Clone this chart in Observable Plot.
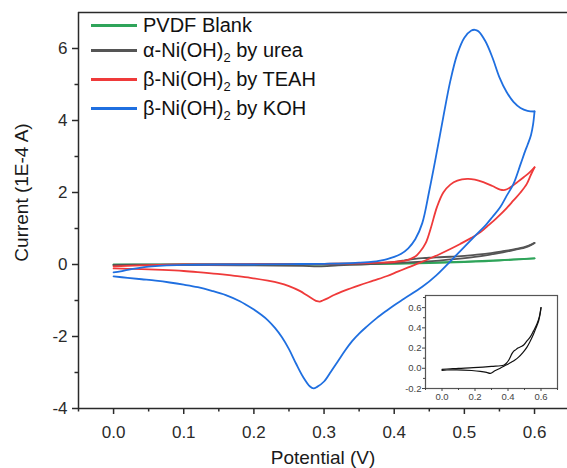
<!DOCTYPE html>
<html><head><meta charset="utf-8">
<script src="https://cdn.jsdelivr.net/npm/d3@7"></script>
<script src="https://cdn.jsdelivr.net/npm/@observablehq/plot@0.6"></script>
<style>
body{margin:0;background:#fff;}
#wrap{position:relative;width:567px;height:468px;font-family:"Liberation Sans",Arial,sans-serif;overflow:hidden;}
#inset{position:absolute;left:390px;top:285px;}
.row{position:absolute;left:91px;height:22px;line-height:22px;display:flex;align-items:center;font-size:20px;color:#111;white-space:nowrap;}
.sw{width:46px;height:0;border-top:3px solid;margin-right:6px;}
sub{font-size:13px;line-height:0;vertical-align:-0.35em;}
</style></head>
<body>
<div id="wrap"><div id="main"></div><div id="inset"></div><div id="legend"></div></div>
<script>
// ---- data (potential in V, current in 1E-4 A) ----
const seriesNames = ["PVDF Blank", "α-Ni(OH)2 by urea", "β-Ni(OH)2 by TEAH", "β-Ni(OH)2 by KOH"];
const seriesColors = ["#2fa45a", "#555555", "#ef3a3a", "#1f6fe0"];

const pvdfFwdV = [0, 0.1, 0.2, 0.3, 0.4, 0.45, 0.5, 0.55, 0.6];
const pvdfFwdI = [0.0, 0.0, 0.005, 0.01, 0.03, 0.05, 0.08, 0.12, 0.17];
const pvdfRevV = [0.6, 0.55, 0.5, 0.45, 0.4, 0.3, 0.2, 0.1, 0];
const pvdfRevI = [0.17, 0.11, 0.07, 0.04, 0.02, 0.0, -0.01, -0.01, -0.01];

const ureaFwdV = [0, 0.05, 0.1, 0.19, 0.3, 0.373, 0.39, 0.404, 0.415, 0.424, 0.435, 0.444, 0.46, 0.48, 0.495, 0.515, 0.535, 0.555, 0.576, 0.59, 0.6];
const ureaFwdI = [-0.01, -0.005, 0, 0.006, 0.018, 0.03, 0.05, 0.08, 0.115, 0.145, 0.17, 0.18, 0.2, 0.215, 0.23, 0.27, 0.31, 0.37, 0.44, 0.51, 0.6];
const ureaRevV = [0.6, 0.594, 0.586, 0.57, 0.555, 0.535, 0.515, 0.49, 0.464, 0.44, 0.42, 0.404, 0.38, 0.353, 0.32, 0.293, 0.27, 0.232, 0.18, 0.09, 0.03, 0];
const ureaRevI = [0.6, 0.53, 0.47, 0.4, 0.34, 0.27, 0.21, 0.155, 0.11, 0.08, 0.06, 0.045, 0.025, 0.0, -0.025, -0.05, -0.04, -0.03, -0.022, -0.015, -0.017, -0.02];

const teahFwdV = [0, 0.05, 0.1, 0.15, 0.2, 0.25, 0.3, 0.35, 0.38, 0.4, 0.41, 0.42, 0.43, 0.437, 0.445, 0.452, 0.461, 0.47, 0.48, 0.49, 0.504, 0.515, 0.527, 0.54, 0.551, 0.558, 0.566, 0.575, 0.585, 0.593, 0.6];
const teahFwdI = [-0.05, -0.02, 0, 0, 0.01, 0.01, 0.02, 0.03, 0.05, 0.07, 0.09, 0.13, 0.22, 0.36, 0.6, 1.0, 1.6, 2.0, 2.22, 2.33, 2.38, 2.36, 2.29, 2.18, 2.08, 2.07, 2.15, 2.28, 2.43, 2.56, 2.7];
const teahRevV = [0.6, 0.595, 0.589, 0.58, 0.57, 0.56, 0.547, 0.535, 0.523, 0.51, 0.494, 0.48, 0.466, 0.45, 0.437, 0.42, 0.405, 0.39, 0.37, 0.35, 0.33, 0.315, 0.305, 0.298, 0.294, 0.29, 0.285, 0.275, 0.266, 0.25, 0.235, 0.22, 0.195, 0.17, 0.148, 0.12, 0.1, 0.07, 0.04, 0.02, 0];
const teahRevI = [2.7, 2.5, 2.24, 2.0, 1.78, 1.56, 1.31, 1.1, 0.9, 0.74, 0.57, 0.43, 0.3, 0.16, 0.05, -0.08, -0.2, -0.32, -0.45, -0.58, -0.72, -0.84, -0.94, -1.0, -1.03, -1.02, -0.97, -0.85, -0.74, -0.6, -0.51, -0.45, -0.37, -0.31, -0.26, -0.21, -0.18, -0.15, -0.13, -0.12, -0.11];

const kohFwdV = [0, 0.01, 0.02, 0.035, 0.05, 0.07, 0.1, 0.15, 0.2, 0.25, 0.3, 0.33, 0.35, 0.37, 0.38, 0.39, 0.4, 0.41, 0.42, 0.43, 0.44, 0.45, 0.46, 0.47, 0.48, 0.49, 0.5, 0.51, 0.515, 0.52, 0.53, 0.54, 0.55, 0.56, 0.57, 0.58, 0.59, 0.6];
const kohFwdI = [-0.22, -0.19, -0.15, -0.1, -0.06, -0.03, -0.01, 0, 0, 0.01, 0.02, 0.03, 0.05, 0.08, 0.11, 0.15, 0.21, 0.3, 0.45, 0.7, 1.15, 2.05, 3.05, 4.1, 5.1, 5.85, 6.3, 6.5, 6.52, 6.48, 6.2, 5.75, 5.2, 4.8, 4.52, 4.35, 4.27, 4.25];
const kohRevV = [0.6, 0.598, 0.595, 0.59, 0.587, 0.58, 0.57, 0.56, 0.551, 0.54, 0.532, 0.518, 0.5, 0.48, 0.46, 0.44, 0.414, 0.4, 0.39, 0.375, 0.36, 0.35, 0.34, 0.33, 0.32, 0.31, 0.3, 0.29, 0.285, 0.28, 0.27, 0.26, 0.25, 0.24, 0.23, 0.22, 0.21, 0.2, 0.19, 0.18, 0.16, 0.14, 0.12, 0.1, 0.08, 0.06, 0.04, 0.02, 0];
const kohRevI = [4.25, 3.9, 3.6, 3.32, 3.17, 2.78, 2.24, 1.9, 1.59, 1.32, 1.13, 0.85, 0.49, 0.09, -0.3, -0.62, -0.95, -1.13, -1.27, -1.49, -1.74, -1.92, -2.13, -2.39, -2.68, -2.97, -3.25, -3.4, -3.44, -3.39, -3.12, -2.75, -2.35, -2.02, -1.76, -1.55, -1.39, -1.25, -1.13, -1.02, -0.85, -0.73, -0.63, -0.56, -0.5, -0.45, -0.41, -0.37, -0.33];

// axes
const xDomain = [-0.05, 0.647];
const yDomain = [-4, 7];
const xMajor = [0, 0.1, 0.2, 0.3, 0.4, 0.5, 0.6];
const xMinor = [-0.05, 0.05, 0.15, 0.25, 0.35, 0.45, 0.55];
const yMajor = [-4, -2, 0, 2, 4, 6];
const yMinor = [-3, -1, 1, 3, 5];
const xTitle = "Potential (V)";
const yTitle = "Current (1E-4 A)";

const insetXDomain = [-0.1, 0.7];
const insetYDomain = [-0.2, 0.72];
const insetXMajor = [0, 0.2, 0.4, 0.6];
const insetXMinor = [-0.1, 0.1, 0.3, 0.5, 0.7];
const insetYMajor = [-0.2, 0, 0.2, 0.4, 0.6];
const insetYMinor = [-0.1, 0.1, 0.3, 0.5, 0.7];

// ---- build ----
const pts = (xs, ys) => xs.map((x, i) => ({x, y: ys[i]}));
const branches = [
  [pts(pvdfFwdV, pvdfFwdI), pts(pvdfRevV, pvdfRevI)],
  [pts(ureaFwdV, ureaFwdI), pts(ureaRevV, ureaRevI)],
  [pts(teahFwdV, teahFwdI), pts(teahRevV, teahRevI)],
  [pts(kohFwdV, kohFwdI), pts(kohRevV, kohRevI)]
];
const font = "'Liberation Sans', Arial, sans-serif";
const axisColor = "#2a2a2a";

const curveMarks = [];
branches.forEach((br, k) => br.forEach(b => curveMarks.push(
  Plot.line(b, {x: "x", y: "y", stroke: seriesColors[k], strokeWidth: 1.8, curve: "catmull-rom"})
)));

const main = Plot.plot({
  width: 567, height: 468,
  marginLeft: 78, marginRight: 0, marginTop: 12, marginBottom: 60,
  x: {domain: xDomain},
  y: {domain: yDomain},
  style: {fontFamily: font, background: "white", overflow: "visible"},
  marks: [
    ...curveMarks,
    Plot.ruleX([xDomain[0]], {stroke: axisColor, strokeWidth: 1.5}),
    Plot.ruleY([yDomain[0]], {stroke: axisColor, strokeWidth: 1.5}),
    Plot.ruleY([yDomain[1]], {stroke: axisColor, strokeWidth: 1.5}),
    Plot.axisX({ticks: xMajor, tickSize: 6, tickPadding: 11, tickFormat: d3.format(".1f"), fontSize: 17, color: axisColor, strokeWidth: 1.5, label: null}),
    Plot.axisX({ticks: xMinor, tickSize: 3.5, tickFormat: () => "", color: axisColor, strokeWidth: 1.5, label: null}),
    Plot.axisY({ticks: yMajor, tickSize: 6, tickPadding: 5, tickFormat: d => String(d), fontSize: 17, color: axisColor, strokeWidth: 1.5, label: null}),
    Plot.axisY({ticks: yMinor, tickSize: 3.5, tickFormat: () => "", color: axisColor, strokeWidth: 1.5, label: null}),
    Plot.text([xTitle], {text: d => d, frameAnchor: "bottom", textAnchor: "middle", lineAnchor: "middle", dy: 49, fontSize: 19, fill: "#1a1a1a"}),
    Plot.text([yTitle], {text: d => d, frameAnchor: "left", textAnchor: "middle", lineAnchor: "middle", dx: -57, dy: -18, rotate: -90, fontSize: 19, fill: "#1a1a1a"})
  ]
});
document.getElementById("main").appendChild(main);

const insetColor = "#444";
const inset = Plot.plot({
  width: 177, height: 125,
  marginLeft: 35, marginRight: 10, marginTop: 10, marginBottom: 22,
  x: {domain: insetXDomain},
  y: {domain: insetYDomain},
  style: {fontFamily: font, background: "none", overflow: "visible"},
  marks: [
    Plot.frame({fill: "white", stroke: "#555", strokeWidth: 1.2}),
    Plot.axisX({ticks: insetXMajor, tickSize: 3, tickPadding: 2, tickFormat: d3.format(".1f"), fontSize: 9.5, color: insetColor, label: null}),
    Plot.axisX({ticks: insetXMinor, tickSize: 2, tickFormat: () => "", color: insetColor, label: null}),
    Plot.axisY({ticks: insetYMajor, tickSize: 3, tickPadding: 1, tickFormat: d => d.toFixed(1), fontSize: 9.5, color: insetColor, label: null}),
    Plot.axisY({ticks: insetYMinor, tickSize: 2, tickFormat: () => "", color: insetColor, label: null}),
    Plot.line(branches[1][0], {x: "x", y: "y", stroke: "#111", strokeWidth: 1.2, curve: "catmull-rom"}),
    Plot.line(branches[1][1], {x: "x", y: "y", stroke: "#111", strokeWidth: 1.2, curve: "catmull-rom"})
  ]
});
document.getElementById("inset").appendChild(inset);

// legend
const legendTops = [14, 39, 68, 97];
const legendHtml = ["PVDF Blank", "α-Ni(OH)<sub>2</sub> by urea", "β-Ni(OH)<sub>2</sub> by TEAH", "β-Ni(OH)<sub>2</sub> by KOH"];
const leg = document.getElementById("legend");
seriesNames.forEach((name, i) => {
  const row = document.createElement("div");
  row.className = "row";
  row.style.top = legendTops[i] + "px";
  row.innerHTML = `<span class="sw" style="border-color:${seriesColors[i]}"></span><span>${legendHtml[i]}</span>`;
  leg.appendChild(row);
});
</script>
</body></html>
